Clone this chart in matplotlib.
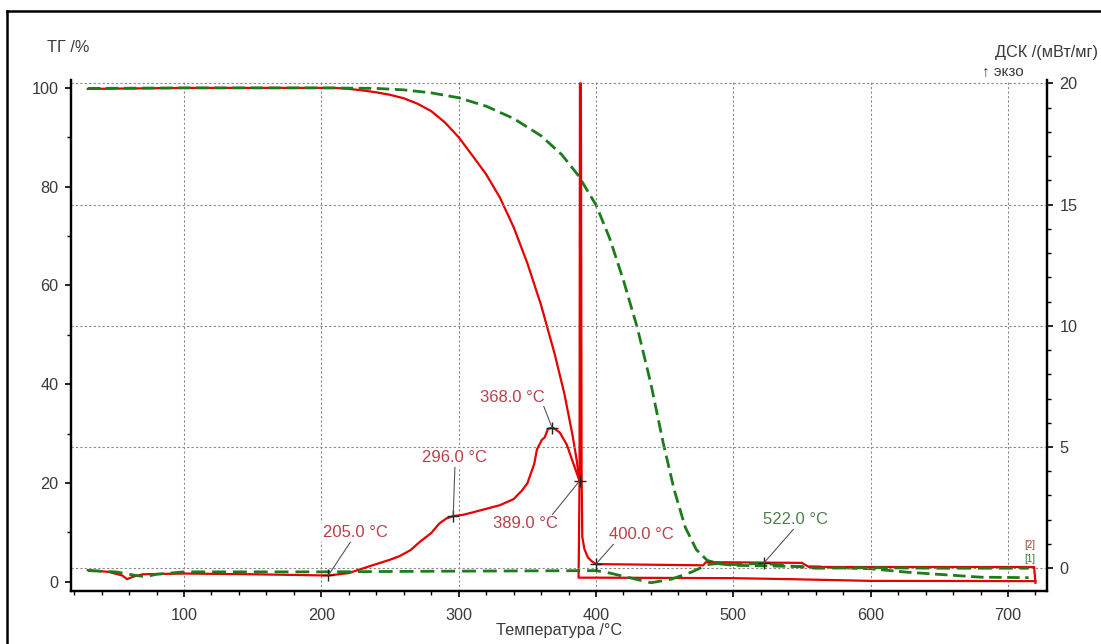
import matplotlib
matplotlib.use('Agg')
import matplotlib.pyplot as plt
from matplotlib.lines import Line2D
from matplotlib.ticker import MultipleLocator

plt.rcParams['font.family'] = ['Liberation Sans', 'DejaVu Sans']

# ТГ, образец 1 (красный)
t_tg1 = [30, 100, 200, 210, 220, 230, 240, 250, 260, 270, 280, 290, 300, 310, 320, 330, 340,
         350, 360, 370, 377, 383, 386, 388, 387.5, 387.3, 400, 500, 541, 600, 720]
tg1 = [99.8, 100, 100, 100, 99.8, 99.5, 99.1, 98.6, 97.9, 96.8, 95.3, 93.0, 90.0, 86.3, 82.5,
       77.8, 71.8, 64.5, 56.0, 46.0, 38.0, 29.5, 24.5, 20.0, 6.0, 0.8, 0.8, 0.7, 0.5, 0.15, 0.1]

# ТГ, образец 2 (зелёный)
t_tg2 = [30, 100, 200, 240, 260, 280, 300, 320, 340, 360, 375, 387, 400, 410, 420, 430, 440,
         449, 457, 465, 473, 481, 490, 500, 560, 600, 627, 680, 715]
tg2 = [99.9, 100, 100, 99.9, 99.6, 99.0, 98.0, 96.3, 93.8, 90.3, 86.5, 82.3, 76.3, 69.5, 61.0,
       51.5, 40.0, 28.0, 18.5, 11.0, 6.5, 4.3, 3.6, 3.3, 3.0, 2.6, 1.9, 0.9, 0.8]

# ДСК, образец 1 (красный)
t_dsc1 = [30, 45, 55, 58.5, 63, 70, 100, 150, 205, 220, 235, 250, 257, 265, 272, 280, 286,
          291, 296, 303, 310, 320, 330, 340, 346, 350, 355, 357, 360.6, 362.7, 365, 368.6,
          373.6, 378.7, 383, 388, 388.3, 389.0, 389.5, 390, 391.5, 394, 397, 400, 478, 480,
          550, 555, 719, 720]
dsc1 = [-0.08, -0.15, -0.3, -0.45, -0.35, -0.25, -0.22, -0.25, -0.3, -0.2, 0.08, 0.35, 0.5,
        0.75, 1.1, 1.45, 1.85, 2.05, 2.15, 2.2, 2.3, 2.45, 2.6, 2.85, 3.2, 3.5, 4.3, 4.9, 5.3,
        5.4, 5.75, 5.8, 5.6, 5.1, 4.4, 3.6, 20.0, 20.0, 4.0, 1.3, 0.8, 0.45, 0.28, 0.17, 0.12,
        0.25, 0.22, 0.05, 0.05, -0.6]

# ДСК, образец 2 (зелёный)
t_dsc2 = [30, 50, 65, 72, 80, 100, 200, 300, 400, 410, 425, 440, 455, 470, 481, 490, 500,
          522, 540, 560, 600, 650, 700, 715]
dsc2 = [-0.1, -0.15, -0.3, -0.35, -0.25, -0.15, -0.15, -0.12, -0.1, -0.2, -0.4, -0.6, -0.45,
        -0.15, 0.15, 0.2, 0.15, 0.2, 0.1, 0.0, 0.02, 0.0, 0.0, 0.0]

# отметки пиков на ДСК и их подписи
peak_t = [205.0, 296.0, 368.0, 388.0, 400.0, 522.0]
peak_v = [-0.3, 2.15, 5.8, 3.6, 0.17, 0.2]
label_t = [224.5, 297.3, 338.8, 348.3, 432.8, 544.9]
label_v = [1.47, 4.57, 7.06, 1.83, 1.38, 1.99]
label_txt = ['205.0 °C', '296.0 °C', '368.0 °C', '389.0 °C', '400.0 °C', '522.0 °C']
label_rel = [(0.45, 0), (0.5, 0), (0.98, 0), (0.9, 1), (0.1, 0), (0.5, 0)]
label_col = ['#b8404a'] * 5 + ['#4f7f4f']

RED = '#e60000'
GREEN = '#1c7c1c'
TXT = '#3a3a3a'

fig = plt.figure(figsize=(11.01, 6.44), dpi=100)
ax = fig.add_axes([71 / 1101, 53 / 644, 976 / 1101, 511 / 644])
ax2 = ax.twinx()

ax.plot(t_tg1, tg1, color=RED, lw=1.6, zorder=3)
ax.plot(t_tg2, tg2, color=GREEN, lw=2.0, dashes=[4.5, 2], zorder=3)
ax2.plot(t_dsc1, dsc1, color=RED, lw=1.6, zorder=3)
ax2.plot(t_dsc2, dsc2, color=GREEN, lw=2.0, dashes=[5, 2.5], zorder=3)

ax.set_xlim(17.7, 728.4)
ax.set_ylim(-1.9, 101.6)
ax2.set_ylim(-0.94, 20.14)

# сетка
ax.grid(axis='x', color='#888888', lw=0.8, ls=(0, (2, 2)))
ax2.grid(axis='y', color='#888888', lw=0.8, ls=(0, (2, 2)))
ax2.set_axisbelow(True)

ax.xaxis.set_major_locator(MultipleLocator(100))
ax.xaxis.set_minor_locator(MultipleLocator(20))
ax.yaxis.set_major_locator(MultipleLocator(20))
ax.yaxis.set_minor_locator(MultipleLocator(10))
ax2.yaxis.set_major_locator(MultipleLocator(5))
ax2.yaxis.set_minor_locator(MultipleLocator(1))

for a in (ax, ax2):
    a.spines['top'].set_visible(False)
    for s in ('left', 'right', 'bottom'):
        a.spines[s].set_linewidth(1.6)
    a.tick_params(which='major', length=4, width=1.2, labelsize=11.7, labelcolor=TXT, pad=5)
    a.tick_params(which='minor', length=3, width=1.0)
ax.tick_params(axis='x', pad=8)
ax.set_xticks([100, 200, 300, 400, 500, 600, 700])

ax.set_xlabel('Температура /°C', fontsize=11.7, color=TXT, labelpad=0)

# отметки и подписи
for T, v, lt, lv, txt, rp, c in zip(peak_t, peak_v, label_t, label_v, label_txt,
                                       label_rel, label_col):
    ax2.plot([T], [v], marker='+', color='#202020', ms=9, mew=1.0, zorder=5)
    ax2.annotate(txt, xy=(T, v), xytext=(lt, lv), ha='center', va='center',
                 fontsize=12, color=c, zorder=6,
                 bbox=dict(boxstyle='square,pad=0.1', fc='white', ec='none', alpha=0.85),
                 arrowprops=dict(arrowstyle='-', color='#555555', lw=0.8, relpos=rp,
                                 shrinkA=0, shrinkB=0))

# маркеры кривых справа
ax2.text(716, 0.95, '[2]', fontsize=7, color='#a04030', ha='center', va='center', zorder=6)
ax2.text(716, 0.4, '[1]', fontsize=7, color='#2a7a2a', ha='center', va='center', zorder=6)

# подписи осей сверху
fig.text(47 / 1101, 1 - 48 / 644, 'ТГ /%', fontsize=11.7, color=TXT, ha='left', va='center')
fig.text(1098 / 1101, 1 - 52 / 644, 'ДСК /(мВт/мг)', fontsize=11.7, color=TXT,
         ha='right', va='center')
fig.text(982 / 1101, 1 - 71 / 644, '↑ экзо', fontsize=11, color=TXT, ha='left', va='center')

# рамка
fig.add_artist(Line2D([7 / 1101, 7 / 1101], [0, 633 / 644], color='black', lw=1.8,
                      transform=fig.transFigure))
fig.add_artist(Line2D([7 / 1101, 1], [633 / 644, 633 / 644], color='black', lw=1.8,
                      transform=fig.transFigure))

fig.savefig('out.png', dpi=100)
